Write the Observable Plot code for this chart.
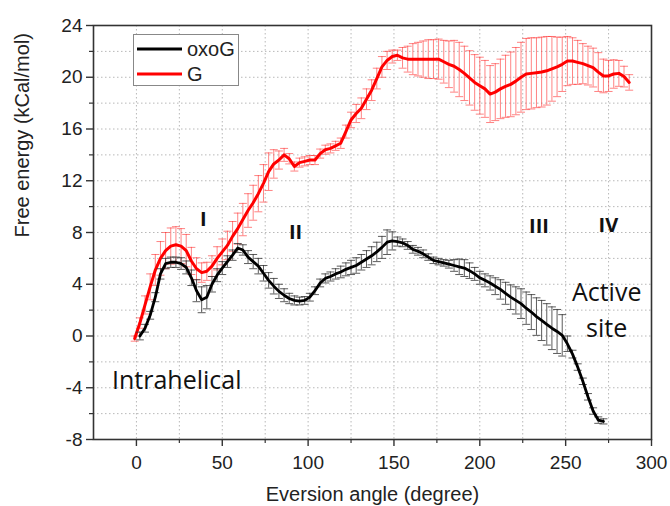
<!DOCTYPE html>
<html>
<head>
<meta charset="utf-8">
<script src="https://cdn.jsdelivr.net/npm/d3@7"></script>
<script src="https://cdn.jsdelivr.net/npm/@observablehq/plot@0.6"></script>
<style>
  body { margin: 0; background: #fff; }
  #wrap { position: relative; width: 670px; height: 506px; background: #fff; }
  #wrap svg { display: block; }
</style>
</head>
<body>
<div id="wrap"></div>
<script>
// ---- data ----
const oxoGAngle = [2,5,8,11,14,17,20,23,26,29,32,35,38,41,44,47,50,53,56,59,62,65,68,71,74,77,80,83,86,89,92,95,98,101,104,107,110,113,116,119,122,125,128,131,134,137,140,143,146,149,152,155,158,161,164,167,170,173,176,179,182,185,188,191,194,197,200,203,206,209,212,215,218,221,224,227,230,233,236,239,242,245,248,251,254,257,260,263,266,269,272];
const oxoGEnergy = [0.0,0.6,1.6,3.0,4.8,5.6,5.7,5.7,5.6,5.3,4.5,3.5,2.8,3.0,4.0,4.7,5.25,5.75,6.25,6.8,6.65,6.1,5.75,5.4,4.85,4.3,3.85,3.45,3.15,2.9,2.75,2.7,2.75,3.0,3.5,4.1,4.45,4.6,4.8,4.95,5.15,5.3,5.45,5.7,5.95,6.2,6.5,6.85,7.25,7.35,7.3,7.2,7.0,6.7,6.55,6.35,6.1,5.85,5.75,5.65,5.55,5.45,5.35,5.25,5.05,4.8,4.5,4.3,4.1,3.85,3.6,3.3,3.0,2.75,2.5,2.15,1.85,1.5,1.2,0.9,0.6,0.35,0.05,-0.6,-1.4,-2.4,-3.5,-4.7,-5.8,-6.5,-6.6];
const oxoGError = [0.3,0.3,0.3,0.35,0.4,0.4,0.4,0.4,0.45,0.5,0.6,0.85,1.0,0.9,0.6,0.5,0.5,0.45,0.4,0.35,0.4,0.5,0.55,0.6,0.6,0.6,0.6,0.55,0.5,0.4,0.35,0.3,0.3,0.3,0.3,0.3,0.35,0.35,0.4,0.45,0.5,0.55,0.6,0.6,0.65,0.7,0.75,0.85,0.95,0.7,0.35,0.3,0.3,0.3,0.3,0.3,0.25,0.25,0.25,0.25,0.3,0.45,0.6,0.65,0.6,0.5,0.5,0.5,0.55,0.65,0.75,0.85,0.95,1.05,1.15,1.25,1.35,1.45,1.55,1.6,1.65,1.7,1.6,0.6,0.3,0.25,0.25,0.25,0.25,0.25,0.2];

const gAngle = [-1,2,5,8,11,14,17,20,23,26,29,32,35,38,41,44,47,50,53,56,59,62,65,68,71,74,77,80,83,86,89,92,95,98,101,104,107,110,113,116,119,122,125,128,131,134,137,140,143,146,149,152,155,158,161,164,167,170,173,176,179,182,185,188,191,194,197,200,203,206,209,212,215,218,221,224,227,230,233,236,239,242,245,248,251,254,257,260,263,266,269,272,275,278,281,284,287];
const gEnergy = [-0.2,1.0,2.4,3.8,5.1,6.0,6.6,6.95,7.05,6.95,6.6,5.8,5.2,4.9,5.0,5.4,6.0,6.5,7.0,7.7,8.3,9.0,9.7,10.3,11.0,11.8,12.7,13.3,13.6,14.0,13.7,13.1,13.4,13.5,13.6,13.6,14.1,14.4,14.5,14.7,14.9,15.8,16.7,17.2,17.6,18.3,19.0,19.9,20.8,21.3,21.6,21.7,21.5,21.4,21.4,21.4,21.4,21.4,21.4,21.4,21.2,21.0,20.85,20.6,20.3,19.95,19.6,19.35,19.1,18.7,18.85,19.1,19.3,19.45,19.7,20.0,20.25,20.3,20.35,20.4,20.5,20.65,20.8,21.0,21.25,21.25,21.15,21.05,20.9,20.75,20.4,20.1,20.1,20.25,20.3,20.05,19.6];
const gError = [0.2,0.4,0.7,1.0,1.2,1.3,1.4,1.4,1.4,1.35,1.25,1.05,0.85,0.75,0.7,0.8,0.9,1.0,1.1,1.15,1.2,1.25,1.3,1.35,1.4,1.45,1.45,1.1,0.7,0.5,0.4,0.35,0.35,0.35,0.35,0.35,0.35,0.35,0.35,0.35,0.4,0.5,0.6,0.7,0.8,0.8,0.8,0.8,0.8,0.7,0.5,0.4,0.8,1.0,1.2,1.3,1.4,1.5,1.5,1.55,1.65,1.8,2.0,2.1,2.1,2.1,2.15,2.2,2.2,2.2,2.2,2.3,2.4,2.5,2.6,2.7,2.75,2.75,2.7,2.7,2.65,2.5,2.3,2.1,1.9,1.8,1.7,1.55,1.5,1.5,1.5,1.3,1.2,1.1,1.0,0.8,0.6];

const seriesNames = ["oxoG", "G"];
const seriesColors = ["#000000", "#ff0000"];
const xMajorTicks = [0, 50, 100, 150, 200, 250, 300];
const xMinorTicks = [25, 75, 125, 175, 225, 275];
const xGridTicks = [0, 25, 50, 75, 100, 125, 150, 175, 200, 225, 250, 275];
const yMajorTicks = [-8, -4, 0, 4, 8, 12, 16, 20, 24];
const yMinorTicks = [-6, -2, 2, 6, 10, 14, 18, 22];
const yGridTicks = [-6, -4, -2, 0, 2, 4, 6, 8, 10, 12, 14, 16, 18, 20, 22];
const regionLabels = ["I", "II", "III", "IV"];
const regionAngle = [39, 92.7, 234.5, 274.9];
const regionEnergy = [9.0, 8.0, 8.45, 8.5];
const stateLabels = ["Intrahelical", "Active\nsite"];
const stateAngle = [23.5, 273.9];
const stateEnergy = [-3.2, 2.2];
const xTitle = "Eversion angle (degree)";
const yTitle = "Free energy (kCal/mol)";

// ---- build rows ----
const toRows = (a, e, err, s) => a.map((x, i) => ({angle: x, energy: e[i], err: err[i], series: s}));
const oxoRows = toRows(oxoGAngle, oxoGEnergy, oxoGError, seriesNames[0]);
const gRows = toRows(gAngle, gEnergy, gError, seriesNames[1]);

// horizontal cap symbol for error bars
const capSymbol = {
  draw(ctx, size) {
    const r = Math.sqrt(size / Math.PI);
    ctx.moveTo(-r, 0);
    ctx.lineTo(r, 0);
  }
};

function errorBars(rows, color, opacity) {
  return [
    Plot.ruleX(rows, {x: "angle", y1: d => d.energy - d.err, y2: d => d.energy + d.err, stroke: color, strokeOpacity: opacity, strokeWidth: 1}),
    Plot.dot(rows, {x: "angle", y: d => d.energy + d.err, symbol: capSymbol, r: 4, stroke: color, strokeOpacity: opacity, fill: "none", strokeWidth: 1}),
    Plot.dot(rows, {x: "angle", y: d => d.energy - d.err, symbol: capSymbol, r: 4, stroke: color, strokeOpacity: opacity, fill: "none", strokeWidth: 1})
  ];
}

const fmt = d => String(d);
const sans = "'Liberation Sans', Arial, Helvetica, sans-serif";
const calib = "'Open Sans', 'Noto Sans', sans-serif";

const chart = Plot.plot({
  width: 670,
  height: 506,
  marginLeft: 93,
  marginRight: 19,
  marginTop: 25,
  marginBottom: 67,
  x: {domain: [-25, 300], label: null},
  y: {domain: [-8, 24], label: null},
  style: {fontFamily: sans, fontSize: "19px", color: "#222", background: "#fff", overflow: "visible"},
  marks: [
    Plot.gridX({ticks: xGridTicks, stroke: "#b8b8b8", strokeOpacity: 1, strokeDasharray: "1.5,2.5"}),
    Plot.gridY({ticks: yGridTicks, stroke: "#b8b8b8", strokeOpacity: 1, strokeDasharray: "1.5,2.5"}),
    ...errorBars(gRows, "#ff3030", 0.6),
    Plot.line(gRows, {x: "angle", y: "energy", stroke: seriesColors[1], strokeWidth: 3}),
    ...errorBars(oxoRows, "#333333", 0.8),
    Plot.line(oxoRows, {x: "angle", y: "energy", stroke: seriesColors[0], strokeWidth: 2.8}),
    Plot.frame({stroke: "#333", strokeWidth: 1.6}),
    Plot.axisX({ticks: xMajorTicks, tickSize: 7, tickPadding: 9, tickFormat: fmt, label: null, fontSize: 19, stroke: "#333", fill: "#222", strokeWidth: 1.4}),
    Plot.axisX({ticks: xMinorTicks, tickSize: 4, tickFormat: () => "", label: null, stroke: "#333", strokeWidth: 1.2}),
    Plot.axisY({ticks: yMajorTicks, tickSize: 7, tickPadding: 4, tickFormat: fmt, label: null, fontSize: 19, stroke: "#333", fill: "#222", strokeWidth: 1.4}),
    Plot.axisY({ticks: yMinorTicks, tickSize: 4, tickFormat: () => "", label: null, stroke: "#333", strokeWidth: 1.2}),
    Plot.text(regionLabels, {x: (d, i) => regionAngle[i], y: (d, i) => regionEnergy[i], text: d => d, fontFamily: calib, fontWeight: "bold", fontSize: 20, fill: "#111"}),
    Plot.text(stateLabels, {x: (d, i) => stateAngle[i], y: (d, i) => stateEnergy[i], text: d => d, fontFamily: calib, fontSize: 25, lineHeight: 1.45, fill: "#111"}),
    Plot.text([xTitle], {frameAnchor: "bottom", dy: 61, text: d => d, fontSize: 20, fill: "#222"}),
    Plot.text([yTitle], {frameAnchor: "left", dx: -71, dy: 5, rotate: -90, text: d => d, fontSize: 20, fill: "#222"})
  ]
});

const wrap = document.getElementById("wrap");
wrap.appendChild(chart);

// ---- legend (inside the plot, upper left) ----
const leg = d3.select(wrap).append("div")
  .style("position", "absolute")
  .style("left", "133px")
  .style("top", "34px")
  .style("width", "106px")
  .style("height", "52px")
  .style("border", "1px solid #888")
  .style("background", "#fff")
  .style("box-sizing", "border-box");
const lsvg = leg.append("svg").attr("width", 104).attr("height", 50);
seriesNames.forEach((name, i) => {
  const cy = 14 + i * 25;
  lsvg.append("line").attr("x1", 3).attr("x2", 48).attr("y1", cy).attr("y2", cy)
    .attr("stroke", seriesColors[i]).attr("stroke-width", 3);
  lsvg.append("text").attr("x", 53).attr("y", cy + 7).text(name)
    .attr("font-family", sans).attr("font-size", 20).attr("fill", "#222");
});
</script>
</body>
</html>
